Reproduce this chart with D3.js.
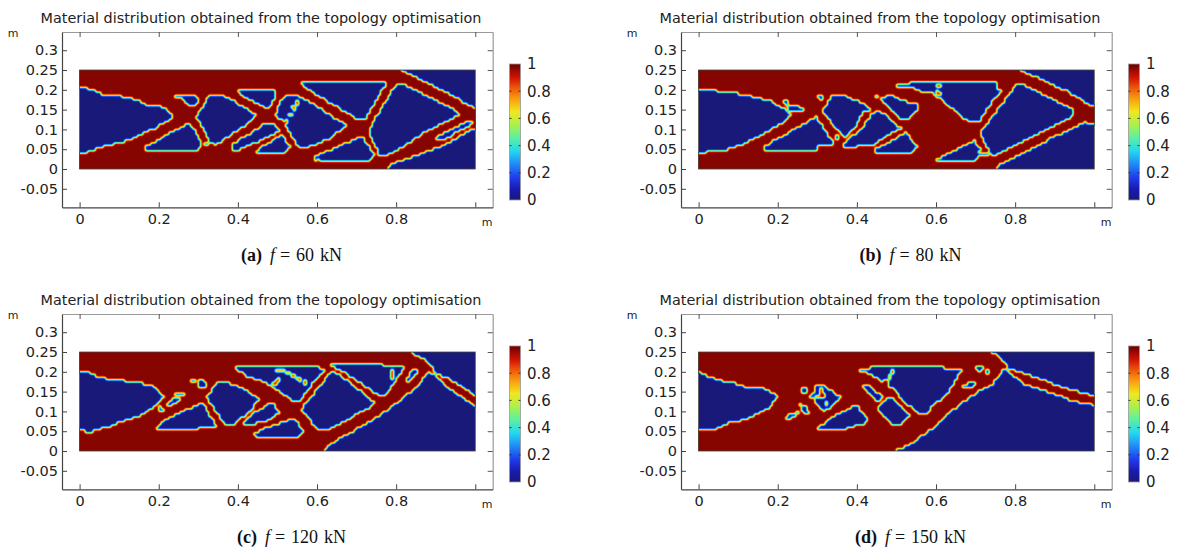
<!DOCTYPE html>
<html>
<head>
<meta charset="utf-8">
<style>
  body { margin: 0; background: #fff; }
  svg text { font-family: "DejaVu Sans"; fill: #222; }
  svg text.caption { font-family: "Liberation Serif"; font-size: 18px; fill: #111; word-spacing: 1.5px; }
</style>
<script src="https://cdn.jsdelivr.net/npm/d3@7"></script>
</head>
<body>
<svg width="1177" height="548"></svg>
<script>
const chartTitle = "Material distribution obtained from the topology optimisation";
const captionTags = ["(a)", "(b)", "(c)", "(d)"];
const captionLoads = ["60", "80", "120", "150"];
const xTicks = [0, 0.2, 0.4, 0.6, 0.8, 1];
const yTicks = [-0.05, 0, 0.05, 0.1, 0.15, 0.2, 0.25, 0.3];
const barTicks = [0, 0.2, 0.4, 0.6, 0.8, 1];

// void regions (x, y in metres)
const voidsA = [
  [[0,.204],[.02,.204],[.039,.198],[.06,.187],[.098,.187],[.11,.18],[.149,.174],[.17,.162],[.208,.156],[.237,.136],[.22,.12],[.19,.103],[.144,.082],[.106,.066],[.068,.06],[.035,.048],[.005,.04],[0,.04]],
  [[.237,.187],[.292,.189],[.302,.174],[.292,.163],[.275,.163],[.26,.178],[.237,.181]],
  [[.161,.054],[.279,.117],[.31,.063],[.30,.05],[.165,.05]],
  [[.328,.189],[.359,.189],[.448,.136],[.427,.115],[.345,.06],[.33,.069],[.296,.13]],
  [[.403,.198],[.49,.198],[.497,.184],[.48,.156],[.465,.156],[.403,.191]],
  [[.382,.059],[.473,.117],[.49,.115],[.505,.097],[.44,.065],[.42,.056],[.393,.042]],
  [[.446,.046],[.51,.086],[.533,.056],[.515,.042],[.448,.042]],
  [[.527,.189],[.544,.189],[.595,.162],[.645,.128],[.675,.111],[.633,.077],[.57,.052],[.553,.052],[.515,.124],[.502,.128],[.494,.136],[.503,.16],[.515,.178]],
  [[.557,.218],[.776,.22],[.721,.124],[.705,.124],[.65,.158],[.605,.185],[.565,.208]],
  [[.59,.022],[.597,.033],[.704,.078],[.717,.078],[.745,.035],[.74,.028],[.728,.018],[.616,.018],[.607,.026],[.596,.018]],
  [[.801,.215],[.826,.212],[.944,.153],[.958,.135],[.945,.128],[.902,.107],[.869,.09],[.81,.052],[.768,.031],[.758,.031],[.73,.098]],
  [[.9,.072],[.905,.082],[.925,.092],[.985,.123],[.993,.115],[.94,.085],[.925,.075]],
  [[.81,.25],[1,.25],[1,.152],[.944,.185],[.88,.218]],
  [[.777,0],[.79,.012],[.915,.058],[.94,.07],[1,.105],[1,0]]
];
const voidsB = [
  [[0,.204],[.025,.199],[.062,.195],[.105,.189],[.147,.18],[.185,.17],[.214,.153],[.236,.137],[.22,.122],[.18,.098],[.134,.073],[.105,.06],[.071,.05],[.029,.048],[.008,.039],[0,.044]],
  [[.231,.162],[.239,.162],[.266,.153],[.266,.146],[.228,.148]],
  [[.297,.187],[.317,.187],[.307,.172]],
  [[.162,.054],[.297,.132],[.337,.072],[.337,.06],[.303,.06],[.303,.05],[.165,.05]],
  [[.339,.189],[.364,.189],[.376,.18],[.41,.17],[.437,.151],[.414,.145],[.395,.103],[.37,.083],[.355,.092],[.313,.145]],
  [[.36,.052],[.375,.07],[.412,.103],[.437,.14],[.455,.149],[.513,.102],[.49,.09],[.467,.08],[.446,.06],[.4,.06],[.398,.052]],
  [[.446,.048],[.525,.092],[.551,.056],[.541,.042],[.45,.042]],
  [[.462,.178],[.479,.189],[.517,.172],[.56,.162],[.531,.124],[.518,.124],[.495,.14]],
  [[.5,.214],[.53,.214],[.534,.22],[.753,.22],[.756,.2],[.77,.2],[.741,.17],[.707,.117],[.686,.117],[.593,.191],[.56,.195],[.543,.204],[.505,.206]],
  [[.601,.024],[.699,.072],[.704,.056],[.722,.052],[.704,.048],[.704,.042],[.733,.04],[.733,.034],[.704,.03],[.699,.019],[.612,.019]],
  [[.804,.214],[.82,.212],[.93,.158],[.95,.148],[.95,.14],[.93,.124],[.871,.095],[.753,.035],[.741,.035],[.711,.09]],
  [[.81,.25],[1,.25],[1,.156],[.93,.197],[.87,.225]],
  [[.747,0],[.762,.01],[.896,.08],[.964,.111],[.976,.119],[1,.11],[1,0]]
];
const voidsC = [
  [[0,.199],[.026,.199],[.043,.188],[.068,.183],[.11,.182],[.114,.173],[.157,.171],[.165,.165],[.19,.163],[.216,.137],[.19,.112],[.157,.091],[.11,.076],[.077,.062],[.047,.055],[.022,.045],[.005,.053],[0,.053]],
  [[.24,.149],[.266,.149],[.266,.14],[.24,.14]],
  [[.298,.168],[.306,.182],[.325,.168],[.322,.163],[.298,.163]],
  [[.218,.112],[.237,.131],[.252,.131],[.252,.125],[.228,.112]],
  [[.19,.057],[.212,.075],[.3,.118],[.313,.118],[.346,.062],[.3,.06],[.296,.052],[.192,.052]],
  [[.346,.173],[.371,.173],[.405,.162],[.452,.133],[.435,.104],[.393,.07],[.365,.07],[.322,.135]],
  [[.405,.067],[.414,.07],[.447,.1],[.477,.118],[.49,.118],[.506,.098],[.481,.078],[.447,.07],[.422,.064],[.41,.064]],
  [[.441,.042],[.456,.053],[.532,.078],[.548,.078],[.565,.047],[.553,.036],[.447,.036]],
  [[.39,.213],[.599,.213],[.62,.204],[.582,.161],[.557,.128],[.536,.128],[.51,.146],[.473,.171],[.422,.19],[.397,.204]],
  [[.635,.198],[.653,.196],[.749,.12],[.683,.083],[.628,.055],[.603,.053],[.561,.106]],
  [[.634,.219],[.763,.22],[.767,.212],[.822,.212],[.772,.14],[.755,.14],[.704,.175],[.65,.21],[.634,.212]],
  [[.826,.179],[.839,.205],[.856,.205],[.852,.197],[.83,.175]],
  [[.835,.25],[1,.25],[1,.141],[.936,.18],[.928,.186],[.911,.192],[.898,.198],[.894,.208],[.869,.234]],
  [[.616,0],[.65,.028],[.742,.078],[.818,.133],[.86,.17],[.881,.198],[.89,.196],[.911,.178],[.928,.165],[.936,.156],[.995,.116],[1,.114],[1,0]]
];
const voidsD = [
  [[0,.199],[.004,.199],[.033,.185],[.062,.175],[.096,.171],[.1,.164],[.13,.162],[.163,.158],[.199,.14],[.18,.109],[.143,.091],[.105,.076],[.071,.07],[.045,.057],[.02,.051],[0,.055]],
  [[.258,.157],[.276,.157],[.276,.149],[.258,.149]],
  [[.294,.165],[.315,.165],[.332,.155],[.357,.137],[.336,.114],[.319,.1],[.298,.114],[.292,.129],[.277,.137],[.294,.15]],
  [[.256,.118],[.269,.114],[.28,.095],[.269,.092],[.256,.112]],
  [[.217,.078],[.227,.092],[.255,.1],[.255,.094],[.227,.078]],
  [[.303,.059],[.336,.085],[.4,.118],[.431,.072],[.41,.068],[.361,.053],[.303,.053]],
  [[.406,.206],[.429,.206],[.433,.214],[.618,.214],[.623,.207],[.666,.207],[.627,.141],[.601,.124],[.576,.093],[.559,.093],[.509,.133],[.5,.15],[.471,.171],[.433,.196],[.406,.199]],
  [[.412,.165],[.429,.165],[.465,.138],[.458,.129],[.448,.125]],
  [[.46,.12],[.475,.133],[.488,.133],[.534,.087],[.517,.072],[.492,.062],[.454,.104]],
  [[.701,.213],[.72,.213],[.711,.197]],
  [[.667,.162],[.686,.174],[.705,.174],[.69,.158],[.669,.16]],
  [[.486,0],[.509,.005],[.543,.023],[.593,.058],[.644,.105],[.686,.136],[.724,.16],[.741,.165],[.77,.206],[.778,.206],[.82,.17],[.879,.15],[.947,.126],[.997,.116],[1,.115],[1,0]],
  [[.736,.25],[.762,.238],[.783,.208],[.82,.196],[.879,.176],[.93,.158],[.997,.141],[1,.14],[1,.25]]
];

// little solid specks inside the voids
const specksA = [[.55,.169],[.542,.155],[.533,.136],[.523,.12]];
const specksB = [[.606,.209],[.606,.192]];
const specksC = [[.497,.203],[.507,.203],[.517,.203],[.495,.171],[.499,.176],[.503,.182],[.525,.197],[.54,.189],[.555,.181],[.57,.173],[.791,.202],[.791,.185]];
const specksD = [[.311,.154],[.299,.138],[.308,.138],[.317,.138],[.323,.122],[.475,.174],[.484,.187],[.49,.202]];

// little holes inside the solid part
const holesA = [[.321,.063]];
const holesB = [[.221,.168],[.351,.08],[.45,.184]];
const holesC = [[.286,.178],[.205,.106]];
const holesD = [[.73,.2]];

const allVoids = [voidsA, voidsB, voidsC, voidsD];
const allSpecks = [specksA, specksB, specksC, specksD];
const allHoles = [holesA, holesB, holesC, holesD];

// цвета шкалы
const jetValues = [0, .08, .17, .27, .36, .46, .55, .65, .74, .82, .9, 1];
const jetColors = ["#19197a", "#1a1ab0", "#1f3ff0", "#2090f5", "#22d8f0", "#5ef0a0", "#a8f050", "#f0e81c", "#f8a010", "#f05a0a", "#d01404", "#6e0000"];
const jet = d3.scaleLinear().domain(jetValues).range(jetColors);

const svg = d3.select("svg");

// mesh and raster steps of the density field
const cellSize = 1 / 150, fieldStep = 0.002, fieldPad = 0.02, blurRadius = 0.85, dotRadius = 0.0057;

// density field: 1 solid, 0 void, stepped on the mesh and then blurred
function createField(voids, specks, holes) {
    let w = Math.round((1 + 2 * fieldPad) / fieldStep);
    let h = Math.round((0.25 + 2 * fieldPad) / fieldStep);
    let near = (list, p) => list.some(q => Math.hypot(q[0] - p[0], q[1] - p[1]) < dotRadius);
    let cache = new Map();

    function cellValue(x, y) {
        let cx = Math.floor(x / cellSize), cy = Math.floor(y / cellSize);
        let k = cx + "_" + cy;
        if (cache.has(k)) return cache.get(k);
        let p = [
            Math.min(0.998, Math.max(0.002, (cx + 0.5) * cellSize)),
            Math.min(0.248, Math.max(0.002, (cy + 0.5) * cellSize))
        ];
        let v = voids.some(poly => d3.polygonContains(poly, p)) ? 0 : 1;
        if (near(specks, p)) v = 1;
        if (near(holes, p)) v = 0;
        cache.set(k, v);
        return v;
    }

    let values = new Float64Array(w * h);
    for (let j = 0; j < h; j++) {
        for (let i = 0; i < w; i++) {
            let x = -fieldPad + (i + 0.5) * fieldStep;
            let y = -fieldPad + (j + 0.5) * fieldStep;
            // за пределами балки берем значение с края
            x = Math.min(0.999, Math.max(0.001, x));
            y = Math.min(0.249, Math.max(0.001, y));
            values[j * w + i] = cellValue(x, y);
        }
    }
    d3.blur2({ data: values, width: w, height: h }, blurRadius);
    return { values, w, h };
}

// one panel: axes, field and colorbar
function drawPanel(index, left, top) {
    let g = svg.append("g").attr("transform", `translate(${left}, ${top})`);

    let scaleX = d3.scaleLinear().domain([-0.0445, 1.044]).range([62, 492.7]);
    let scaleY = d3.scaleLinear().domain([-0.0967, 0.346]).range([207.3, 32]);

    let clipId = "clip" + index;
    g.append("clipPath").attr("id", clipId).append("rect")
        .attr("x", scaleX(0)).attr("y", scaleY(0.25))
        .attr("width", scaleX(1) - scaleX(0)).attr("height", scaleY(0) - scaleY(0.25));

    let plot = g.append("g").attr("clip-path", `url(#${clipId})`);
    plot.append("rect")
        .attr("x", scaleX(0)).attr("y", scaleY(0.25))
        .attr("width", scaleX(1) - scaleX(0)).attr("height", scaleY(0) - scaleY(0.25))
        .attr("fill", jet(0));

    let field = createField(allVoids[index], allSpecks[index], allHoles[index]);
    let levels = d3.range(0.05, 1, 0.05);
    let contours = d3.contours().size([field.w, field.h]).thresholds(levels)(field.values);
    let path = d3.geoPath(d3.geoTransform({
        point: function (x, y) {
            this.stream.point(scaleX(-fieldPad + x * fieldStep), scaleY(-fieldPad + y * fieldStep));
        }
    }));
    plot.selectAll("path")
        .data(contours)
        .enter()
        .append("path")
        .attr("d", path)
        .attr("fill", d => jet(d.value + 0.025));

    // рамка балки
    g.append("rect")
        .attr("x", scaleX(0)).attr("y", scaleY(0.25))
        .attr("width", scaleX(1) - scaleX(0)).attr("height", scaleY(0) - scaleY(0.25))
        .attr("fill", "none").attr("stroke", "#444").attr("stroke-width", 0.8);

    // оси
    let labelX = d => d === 1 ? "" : String(d);
    let axisB = d3.axisBottom(scaleX).tickValues(xTicks).tickFormat(labelX).tickSize(-5).tickSizeOuter(0).tickPadding(6);
    let axisT = d3.axisTop(scaleX).tickValues(xTicks).tickFormat("").tickSize(-5).tickSizeOuter(0);
    let axisL = d3.axisLeft(scaleY).tickValues(yTicks).tickFormat(d => String(d)).tickSize(-5).tickSizeOuter(0).tickPadding(4);
    let axisR = d3.axisRight(scaleY).tickValues(yTicks).tickFormat("").tickSize(-5).tickSizeOuter(0);

    styleAxis(g.append("g").attr("transform", "translate(0, 32)").call(axisT), "#999", "#555");
    styleAxis(g.append("g").attr("transform", "translate(492.7, 0)").call(axisR), "#999", "#555");
    styleAxis(g.append("g").attr("transform", "translate(0, 207.3)").call(axisB), "#444", "#444");
    styleAxis(g.append("g").attr("transform", "translate(62, 0)").call(axisL), "#444", "#444");

    g.append("text").attr("x", 261).attr("y", 23).attr("text-anchor", "middle")
        .attr("font-size", 14.4).text(chartTitle);
    g.append("text").attr("x", 13).attr("y", 37).attr("text-anchor", "middle")
        .attr("font-size", 11).text("m");
    g.append("text").attr("x", 487).attr("y", 226).attr("text-anchor", "middle")
        .attr("font-size", 11).text("m");

    // подпись
    let caption = g.append("text").attr("class", "caption")
        .attr("x", 291.5).attr("y", 261).attr("text-anchor", "middle");
    caption.append("tspan").attr("font-weight", "bold").text(captionTags[index]);
    caption.append("tspan").attr("font-style", "italic").attr("dx", 8).text("f");
    caption.append("tspan").attr("dx", 5).text("= " + captionLoads[index] + " kN");

    drawColorbar(g, index);
}

function styleAxis(sel, domainColor, tickColor) {
    sel.select(".domain").attr("stroke", domainColor).attr("stroke-width", 1.2);
    sel.selectAll(".tick line").attr("stroke", tickColor);
    sel.selectAll(".tick text").attr("font-size", 14.5).attr("font-family", "DejaVu Sans").attr("fill", "#222");
}

function drawColorbar(g, index) {
    let barX = 509.5, barW = 11;
    let scaleBar = d3.scaleLinear().domain([0, 1]).range([200, 64]);

    let gradId = "bar" + index;
    let grad = g.append("linearGradient").attr("id", gradId)
        .attr("x1", 0).attr("y1", 1).attr("x2", 0).attr("y2", 0);
    grad.selectAll("stop")
        .data(jetValues)
        .enter()
        .append("stop")
        .attr("offset", d => d)
        .attr("stop-color", d => jet(d));

    g.append("rect")
        .attr("x", barX).attr("y", scaleBar(1))
        .attr("width", barW).attr("height", scaleBar(0) - scaleBar(1))
        .attr("fill", `url(#${gradId})`)
        .attr("stroke", "#999").attr("stroke-width", 0.8);

    let axis = d3.axisRight(scaleBar).tickValues(barTicks).tickFormat(d => String(d)).tickSize(0).tickPadding(6.5);
    let a = g.append("g").attr("transform", `translate(${barX + barW}, 0)`).call(axis);
    a.select(".domain").remove();
    a.selectAll(".tick text").attr("font-size", 15).attr("font-family", "DejaVu Sans").attr("fill", "#222");

    // короткие засечки с двух сторон
    let inner = barTicks.filter(d => d > 0 && d < 1);
    g.selectAll(null).data(inner).enter().append("line")
        .attr("x1", barX).attr("x2", barX + 2)
        .attr("y1", d => scaleBar(d)).attr("y2", d => scaleBar(d)).attr("stroke", "#333");
    g.selectAll(null).data(inner).enter().append("line")
        .attr("x1", barX + barW - 2).attr("x2", barX + barW)
        .attr("y1", d => scaleBar(d)).attr("y2", d => scaleBar(d)).attr("stroke", "#333");
}

// layout of the 2x2 figure
const panelLeft = [0, 619, 0, 619];
const panelTop = [0, 0, 282, 282];
captionTags.forEach((t, i) => drawPanel(i, panelLeft[i], panelTop[i]));
</script>
</body>
</html>
